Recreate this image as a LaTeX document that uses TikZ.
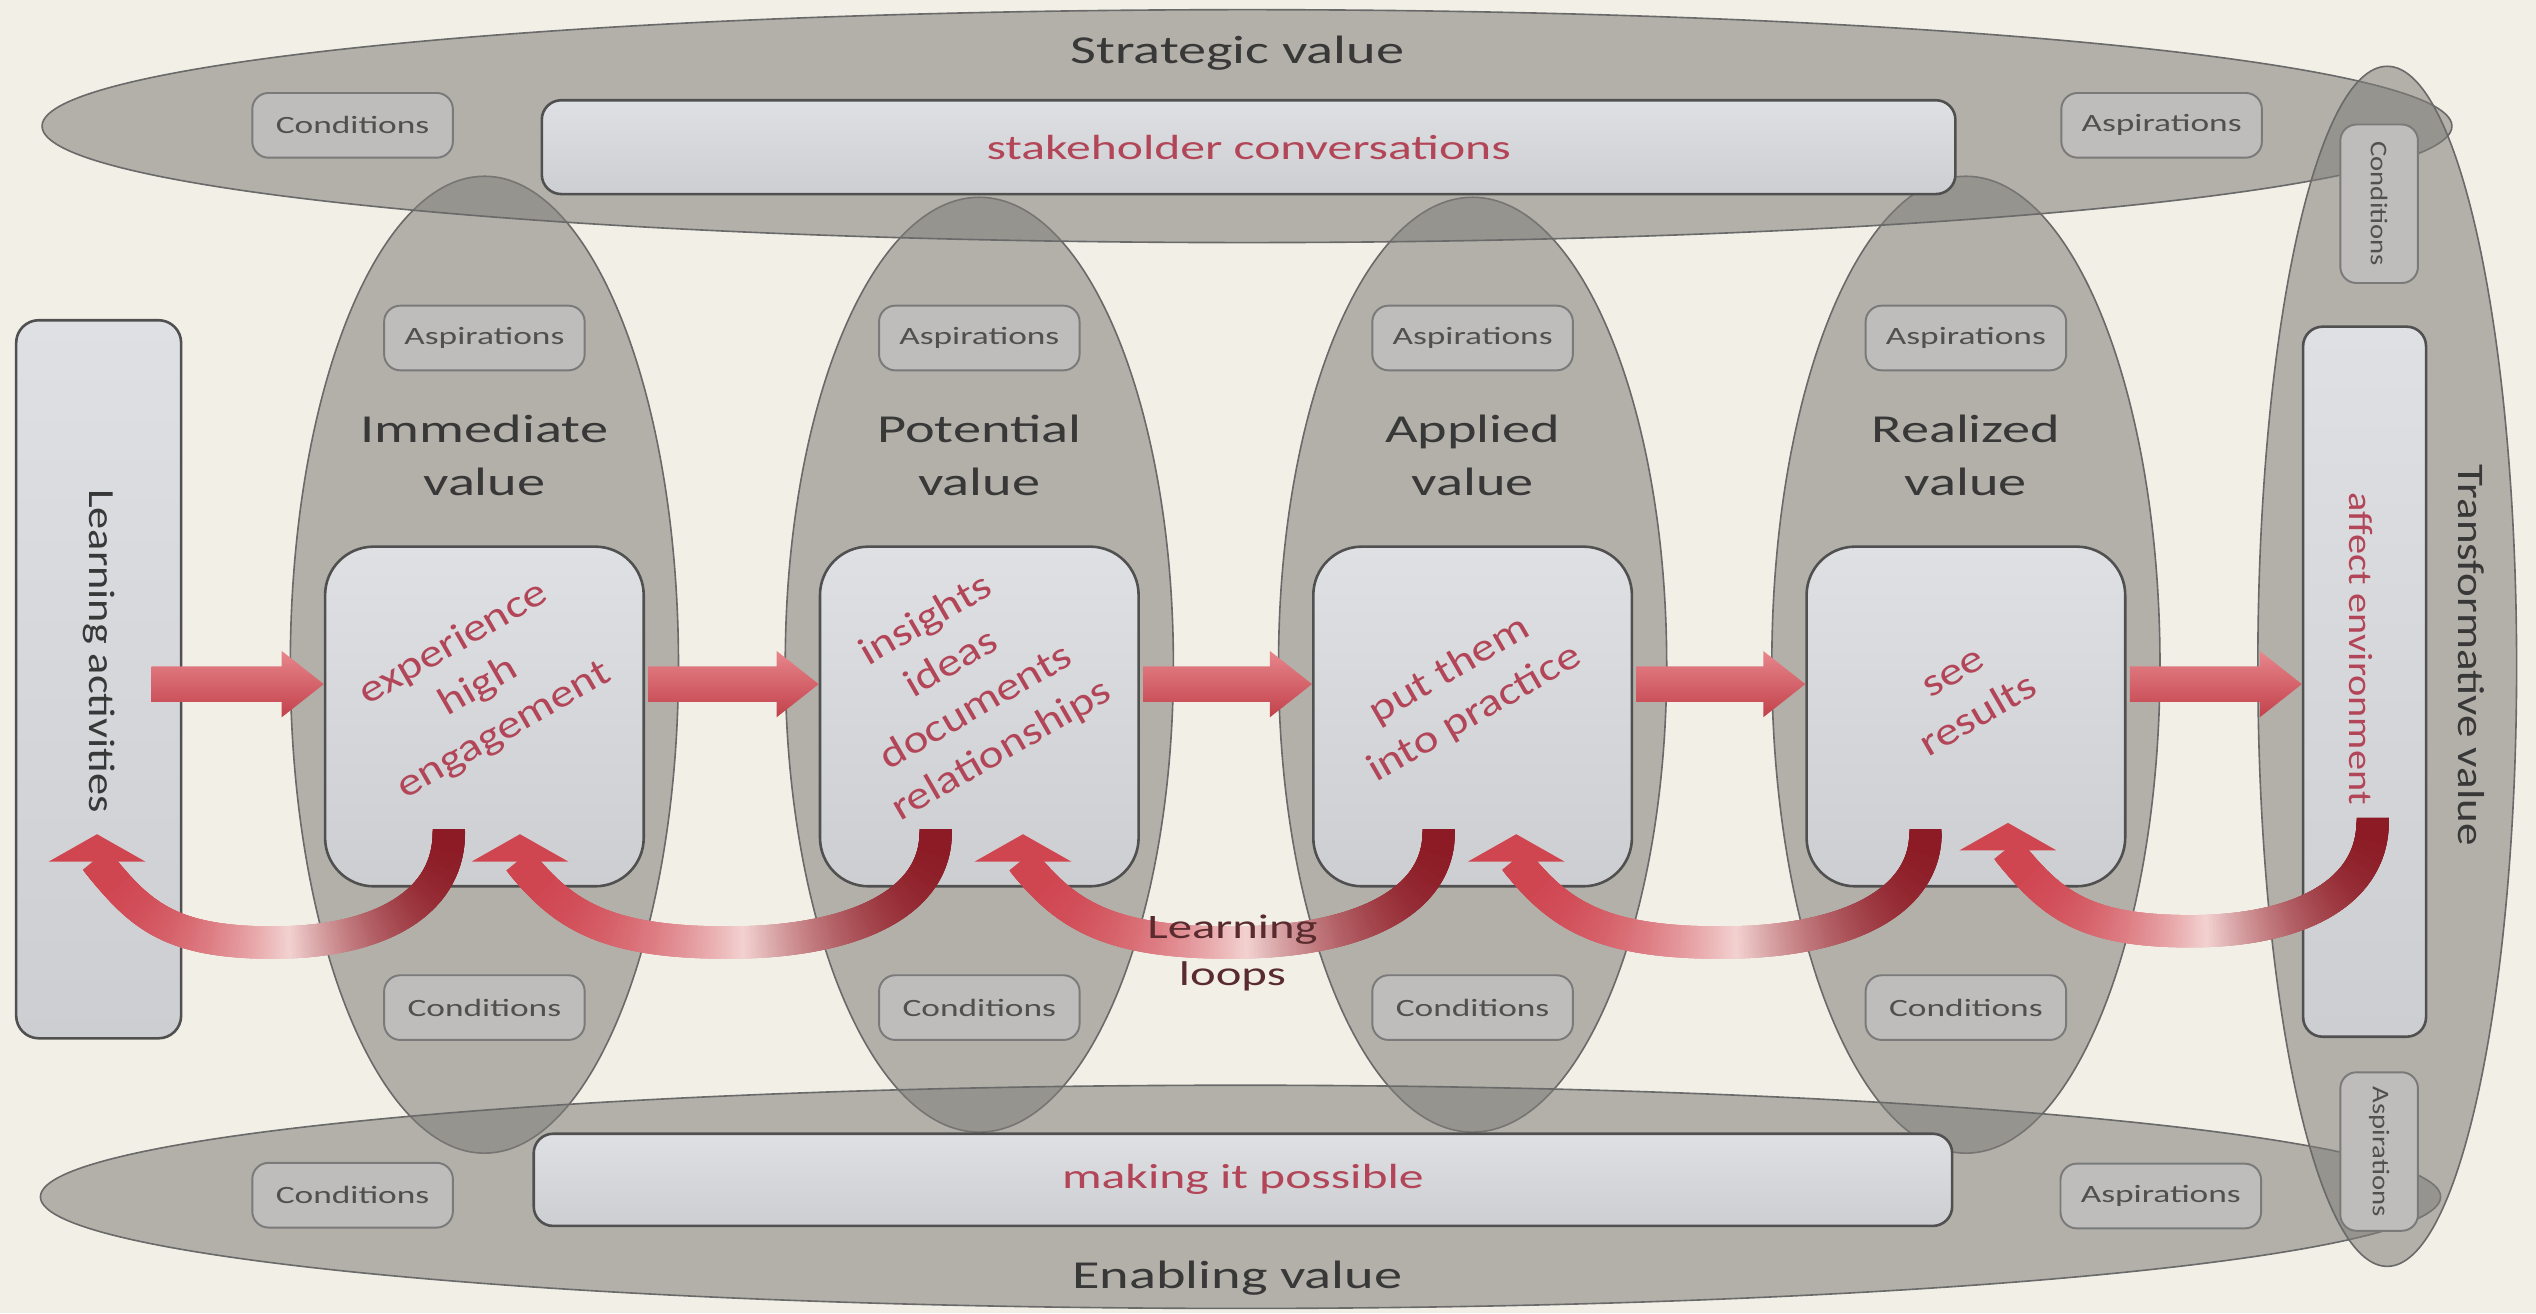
\documentclass[tikz,border=0pt]{standalone}
\usepackage{fontspec}
\setmainfont{Carlito}[FakeStretch=1.42]
\newfontfamily\notesans{Carlito}[FakeStretch=1.2]
\usetikzlibrary{calc,decorations.markings}

\definecolor{paper}{HTML}{F2F0E6}
\definecolor{ovalgray}{RGB}{128,127,123}
\definecolor{ovalline}{HTML}{6A6A6A}
\definecolor{boxtop}{HTML}{DFE0E3}
\definecolor{boxbot}{HTML}{CDCED1}
\definecolor{boxline}{HTML}{505050}
\definecolor{tagfill}{HTML}{BEBDBB}
\definecolor{tagline}{HTML}{7A7A7A}
\definecolor{tagtext}{HTML}{505050}
\definecolor{inktext}{HTML}{383838}
\definecolor{rosetext}{RGB}{178,70,88}
\definecolor{flowlight}{HTML}{E7868C}
\definecolor{flowdark}{HTML}{C2414B}
\definecolor{loopdark}{HTML}{8C1B25}
\definecolor{looplight}{HTML}{F3D3D2}
\definecolor{loophead}{HTML}{CF4550}
\definecolor{loopink}{HTML}{5A2B2E}

% one slice of a learning loop, coloured by its place along the loop
\newcommand\loopslice{%
  \pgfmathsetmacro\loopt{(\pgfkeysvalueof{/pgf/decoration/mark info/sequence number}-1)*0.4}%
  \pgfmathtruncatemacro\loopmix{min(\loopt,100-\loopt)^2/25}%
  \ifdim\loopt pt<50pt
    \colorlet{loopcol}{looplight!\loopmix!loopdark}%
  \else
    \colorlet{loopcol}{looplight!\loopmix!loophead}%
  \fi
  \fill[loopcol] (-1.1pt,-5pt) rectangle (1.1pt,5pt);}

% thick block arrow along the flow line
\newcommand\flowarrow[2]{%
  \shade[flowfill] let \p1=(#1), \p2=(#2), \p3=(flow) in
    (\x1,\y3+5.5pt) -- (\x2-13pt,\y3+5.5pt) -- (\x2-13pt,\y3+10.25pt) -- (\x2,\y3)
    -- (\x2-13pt,\y3-10.25pt) -- (\x2-13pt,\y3-5.5pt) -- (\x1,\y3-5.5pt) -- cycle;}

% learning loop: #1 top of the band, #2 tip of its head
\newcommand\learnloop[2]{%
  \path[loopband] let \p1=(#1), \p2=(#2) in
    (\p1) .. controls +(0pt,-22pt) and +({0.3*(\x1-\x2)},0pt) .. ({(\x1+\x2)/2},\y1-34pt)
          .. controls +({-0.3*(\x1-\x2)},0pt) and +(13pt,-16pt) .. (\x2,\y2-8.5pt);
  \fill[loophead] let \p2=(#2) in (\p2) -- ++(-15pt,-8.5pt) -- ++(30pt,0pt) -- cycle;}

\begin{document}
\begin{tikzpicture}[x=0.5pt, y=0.5pt,
    oval/.style={fill=ovalgray, fill opacity=0.56, draw=ovalline, line width=0.5pt},
    panel/.style={draw=boxline, line width=0.8pt, top color=boxtop, bottom color=boxbot,
      rounded corners=#1, inner sep=0pt},
    panel/.default=6pt,
    tag/.style={draw=tagline, line width=0.6pt, fill=tagfill, rounded corners=5pt, inner sep=0pt,
      minimum width=62pt, minimum height=20pt, text=tagtext, font=\fontsize{7.7}{9}\selectfont},
    sidetag/.style={tag, rotate=-90, minimum width=49pt, minimum height=24pt,
      font=\notesans\fontsize{7.4}{9}\selectfont},
    heading/.style={text=inktext, align=center, font=\fontsize{12.25}{16.5}\selectfont},
    upright/.style={text=inktext, rotate=-90, font=\notesans\fontsize{11.4}{13}\selectfont},
    note/.style={text=rosetext, align=center, font=\notesans\fontsize{12.2}{15.5}\selectfont},
    flowfill/.style={top color=flowlight, bottom color=flowdark},
    loopband/.style={decorate, decoration={markings,
      mark=between positions 0 and 1 step 0.004 with {\loopslice}}}]

  \useasboundingbox (0,0) rectangle (1568,812);
  \fill[paper] (0,0) rectangle (1568,812);

  % value columns
  \foreach \cx/\ry in {299.5/302, 605.5/289, 910.5/289, 1215.5/302}
    \draw[oval] (\cx,401) ellipse [x radius=120, y radius=\ry];

  % strategic, enabling and transformative ovals
  \draw[oval] (771,734) ellipse [x radius=745, y radius=72];
  \draw[oval] (767,72) ellipse [x radius=742, y radius=69];
  \draw[oval] (1476,400) ellipse [x radius=80, y radius=371];

  % boxes
  \node[panel=7pt, minimum width=51pt, minimum height=222pt] (learn) at (61,392) {};
  \node[panel, minimum width=38pt, minimum height=219.5pt] (affect) at (1462,390.5) {};
  \node[panel, minimum width=437pt, minimum height=29pt, text=rosetext,
    font=\fontsize{10.8}{13}\selectfont] (talk) at (772,721) {stakeholder conversations};
  \node[panel, minimum width=438.5pt, minimum height=28.5pt, text=rosetext,
    font=\fontsize{10.8}{13}\selectfont] (enable) at (768.5,82.5) {making it possible};

  \foreach \cx/\cid/\ctitle in {299.5/imm/Immediate, 605.5/pot/Potential,
                                910.5/app/Applied, 1215.5/real/Realized}
  {
    \node[panel=15pt, minimum width=98.5pt, minimum height=105pt] (\cid) at (\cx,369) {};
    \node[tag] (\cid-asp) at (\cx,603) {Aspirations};
    \node[tag] (\cid-cond) at (\cx,189) {Conditions};
    \node[heading] (\cid-title) at (\cx,530.5) {\ctitle\\value};
  }

  % tags on the outer ovals
  \node[tag] (top-cond) at (218,734.5) {Conditions};
  \node[tag] (top-asp) at (1336.5,734.5) {Aspirations};
  \node[tag] (bot-cond) at (218,73) {Conditions};
  \node[tag] (bot-asp) at (1336,72.5) {Aspirations};
  \node[sidetag] (side-cond) at (1471,686) {Conditions};
  \node[sidetag] (side-asp) at (1471,100) {Aspirations};

  % headings
  \node[heading] (strategic) at (765,779) {Strategic value};
  \node[heading] (enabling) at (765,22) {Enabling value};
  \node[upright] (learntext) at (61,409.5) {Learning activities};
  \node[upright, font=\notesans\fontsize{11.6}{13}\selectfont] (transtext) at (1528,407)
    {Transformative value};
  \node[upright, text=rosetext, font=\notesans\fontsize{10.4}{12}\selectfont] (affecttext)
    at (1460,411) {affect environment};

  % what happens in each column
  \node[note, rotate=30] (immnote) at (296,387) {experience\\high\\engagement};
  \node[note, rotate=30] (potnote) at (596,388) {insights\\ideas\\documents\\relationships};
  \node[note, rotate=30] (appnote) at (904,384) {put them\\into practice};
  \node[note, rotate=30] (realnote) at (1216,382) {see\\results};

  % flow from learning to transformation
  \coordinate (flow) at (0,389);
  \foreach \src/\gap/\dst in {learn/-19/imm, imm/2/pot, pot/2/app, app/2/real, real/2/affect}
    \flowarrow{$(\src.east)+(\gap,0)$}{\dst.west};

  % learning loops back to the previous step
  \foreach \src/\sx/\sy/\dst/\tx/\ty in {imm/-22/34/learn/-1/127, pot/-27/34/imm/22/33,
      app/-21/34/pot/27/33, real/-25/34/app/27/33, affect/5/134/real/26/40}
    \learnloop{$(\src.south)+(\sx,\sy)$}{$(\dst.south)+(\tx,\ty)$};

  \node[text=loopink, align=center, font=\fontsize{10.6}{14.5}\selectfont] (loopnote)
    at (762,222.5) {Learning\\loops};
\end{tikzpicture}
\end{document}
